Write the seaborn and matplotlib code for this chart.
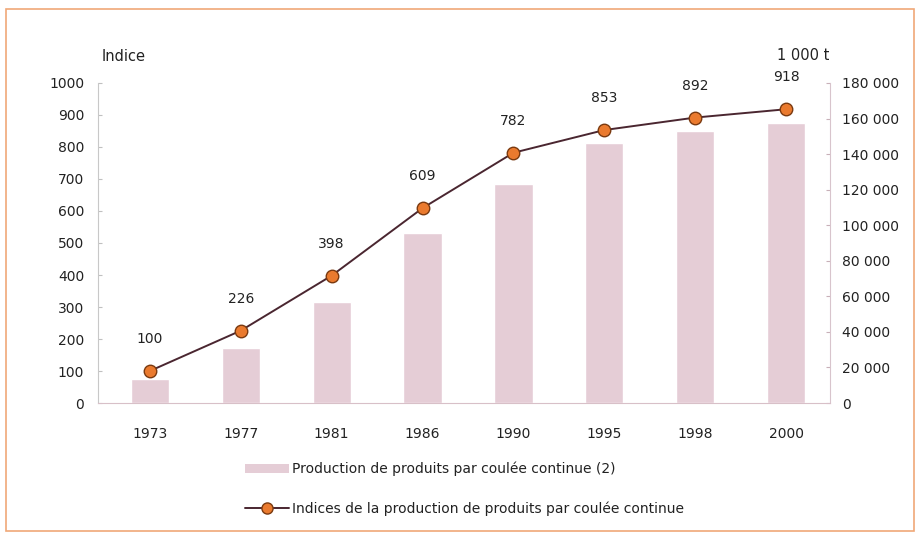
import seaborn as sns
import matplotlib.pyplot as plt
import matplotlib.patches as mpatches
from matplotlib.lines import Line2D
import pandas as pd

annees = ["1973", "1977", "1981", "1986", "1990", "1995", "1998", "2000"]
indices = [100, 226, 398, 609, 782, 853, 892, 918]
production_kt = [13500, 31000, 57000, 95800, 123200, 146100, 153200, 157300]

df = pd.DataFrame({"annee": annees, "indice": indices, "production": production_kt})

sns.set_style("white")
plt.rcParams['font.family'] = ['DejaVu Sans']

couleurBarre = "#e5cdd6"
couleurLigne = "#4a2630"
couleurPoint = "#ea7a2e"
couleurTexte = "#222222"

fig = plt.figure(figsize=(9.2, 5.4), dpi=100)
ax = fig.add_axes([0.1065, 0.2537, 0.7955, 0.5926])
ax2 = ax.twinx()

# barres sur l'axe de droite (1 000 t)
sns.barplot(data=df, x="annee", y="production", color=couleurBarre, width=0.42,
            saturation=1, ax=ax2)
ax2.set_ylim(0, 180000)
ax2.set_yticks(range(0, 180001, 20000))
ax2.set_yticklabels([f"{v:,}".replace(",", " ") for v in range(0, 180001, 20000)])
ax2.set_ylabel("")
ax2.set_xlabel("")

# ligne des indices sur l'axe de gauche
sns.pointplot(data=df, x="annee", y="indice", color=couleurLigne, ax=ax,
              linewidth=1.4, markers="o", markersize=9,
              markerfacecolor=couleurPoint, markeredgecolor="#7a3a10",
              markeredgewidth=1.0)
ax.set_ylim(0, 1000)
ax.set_yticks(range(0, 1001, 100))
ax.set_xlim(-0.57, 7.48)
ax2.set_xlim(-0.57, 7.48)
ax.set_ylabel("")
ax.set_xlabel("")
ax.set_zorder(ax2.get_zorder() + 1)
ax.patch.set_visible(False)

for i, v in enumerate(indices):
    ax.annotate(str(v), (i, v), xytext=(0, 23), textcoords="offset points",
                ha="center", va="center", fontsize=10, color=couleurTexte)

for a in (ax, ax2):
    for s in a.spines.values():
        s.set_visible(False)
ax.spines["left"].set_visible(True)
ax.spines["left"].set_color("#c8c8c8")
ax.spines["bottom"].set_visible(True)
ax.spines["bottom"].set_color("#d8c0c8")
ax2.spines["right"].set_visible(True)
ax2.spines["right"].set_color("#d8c4cc")

ax.tick_params(axis="y", direction="in", length=3, color="#c0c0c0", pad=10,
               labelsize=10, labelcolor=couleurTexte)
ax.tick_params(axis="x", length=0, pad=17, labelsize=10, labelcolor=couleurTexte)
ax2.tick_params(axis="y", direction="in", length=3, color="#c8b0b8", pad=9,
                labelsize=10, labelcolor=couleurTexte)

fig.text(0.110, 0.895, "Indice", fontsize=10.5, color=couleurTexte, ha="left", va="center")
fig.text(0.902, 0.898, "1 000 t", fontsize=10.5, color=couleurTexte, ha="right", va="center")

# cadre orange
fig.patches.append(mpatches.Rectangle((0.006, 0.016), 0.988, 0.968, transform=fig.transFigure,
                                      fill=False, edgecolor="#f0a878", linewidth=1.2))

handles = [
    mpatches.Patch(facecolor=couleurBarre, edgecolor="none"),
    Line2D([0], [0], color=couleurLigne, linewidth=1.4, marker="o", markersize=8,
           markerfacecolor=couleurPoint, markeredgecolor="#7a3a10"),
]
labels = ["Production de produits par coulée continue (2)",
          "Indices de la production de produits par coulée continue"]
fig.legend(handles, labels, loc="upper center", bbox_to_anchor=(0.505, 0.168),
           frameon=False, fontsize=10, handlelength=3.2, labelspacing=1.8,
           handletextpad=0.2, labelcolor=couleurTexte)

plt.savefig("out.png", dpi=100)
